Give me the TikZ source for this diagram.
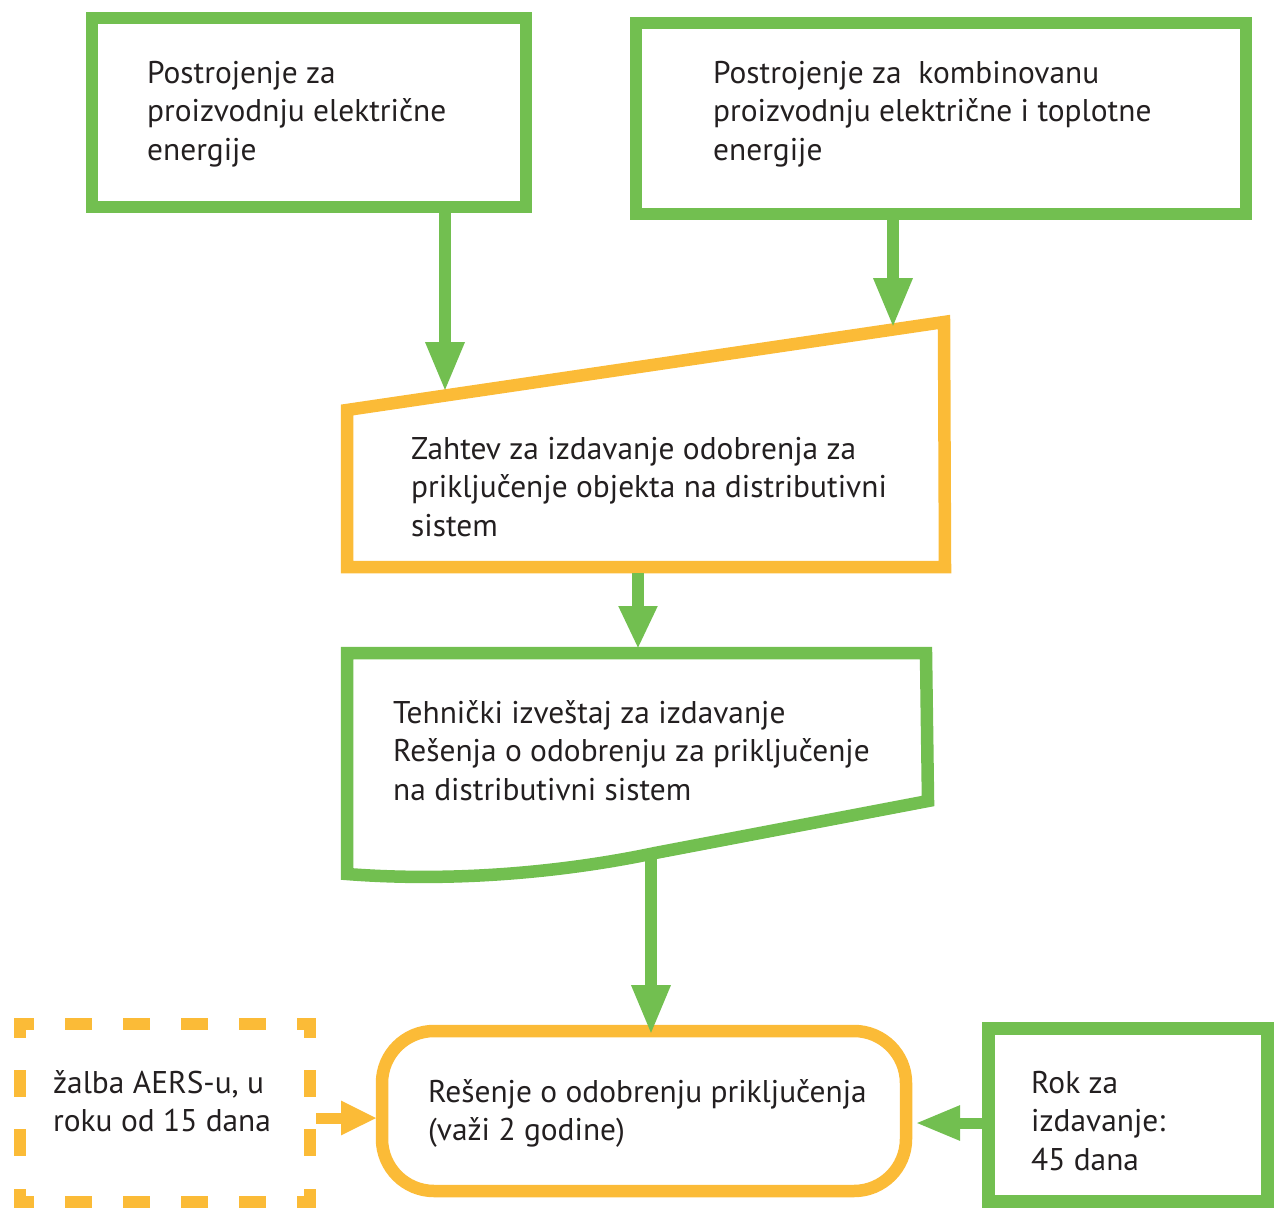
\documentclass[tikz,border=0pt]{standalone}
\usepackage{fontspec}
\setmainfont{PT Sans}
\usetikzlibrary{arrows.meta}
\definecolor{leaf}{RGB}{114,191,80}
\definecolor{amber}{RGB}{251,187,55}
\definecolor{ink}{RGB}{35,31,32}
\tikzset{
  gframe/.style={draw=leaf, line width=12.5pt, line join=miter},
  oframe/.style={draw=amber, line width=12.5pt, line join=miter},
  txt/.style={anchor=north west, inner sep=0pt, align=left, text=ink,
              font=\fontsize{31.4}{38.5}\selectfont},
  garrow/.style={draw=leaf, line width=12pt,
                 -{Triangle[length=#1pt,width=36pt]}},
  garrow/.default=50,
}
\begin{document}
\begin{tikzpicture}[x=1pt,y=-1pt]
\useasboundingbox (0,0) rectangle (1274,1209);

% plain rectangles
\draw[gframe] (92,18) rectangle (526,207);
\draw[gframe] (636,23) rectangle (1246,214);

% manual input (request)
\draw[oframe] (347,410) -- (944,322) -- (945,567) -- (347,567) -- cycle;

% document (technical report)
\draw[gframe] (347,653) -- (926,653) -- (928,801) -- (655,853)
  .. controls (560,873) and (450,882) .. (347,874) -- cycle;

% terminal (decision)
\draw[oframe, rounded corners=52pt] (382,1031) rectangle (906,1191);

% deadline box
\draw[gframe] (988.5,1028.5) rectangle (1267.5,1201.5);

% dashed appeal box, each side dashed so the corners stay solid
\begin{scope}[draw=amber, line width=12pt, line cap=rect]
  \draw[dash pattern=on 15pt off 43pt, dash phase=7.5pt] (20,1024) -- (310,1024);
  \draw[dash pattern=on 15pt off 43pt, dash phase=7.5pt] (20,1202) -- (310,1202);
  \draw[dash pattern=on 15pt off 44.33pt, dash phase=7.5pt] (20,1024) -- (20,1202);
  \draw[dash pattern=on 15pt off 44.33pt, dash phase=7.5pt] (310,1024) -- (310,1202);
\end{scope}

% texts
\node[txt] (plant) at (147,56) {\strut Postrojenje za\\proizvodnju električne\\energije};
\node[txt] (chp) at (713,56) {\strut Postrojenje za\ \ kombinovanu\\proizvodnju električne i toplotne\\energije};
\node[txt] (request) at (411,432) {\strut Zahtev za izdavanje odobrenja za\\priključenje objekta na distributivni\\sistem};
\node[txt] (report) at (393,696) {\strut Tehnički izveštaj za izdavanje\\Rešenja o odobrenju za priključenje\\na distributivni sistem};
\node[txt] (decision) at (428,1075) {\strut Rešenje o odobrenju priključenja\\(važi 2 godine)};
\node[txt] (appeal) at (53,1066) {\strut žalba AERS-u, u\\roku od 15 dana};
\node[txt] (deadline) at (1031,1066) {\strut Rok za\\izdavanje:\\45 dana};

% connector end points
\coordinate (plantOut) at (445,213);
\coordinate (requestInA) at (445,392);
\coordinate (chpOut) at (893,220);
\coordinate (requestInB) at (893,328);
\coordinate (requestOut) at (638,573);
\coordinate (reportIn) at (638,649);
\coordinate (reportOut) at (651,855);
\coordinate (decisionTop) at (651,1035);
\coordinate (appealOut) at (316,1118);
\coordinate (decisionLeft) at (377,1118);
\coordinate (deadlineOut) at (982,1123);
\coordinate (decisionRight) at (915,1123);

% connectors
\draw[garrow] (plantOut) -- (requestInA);
\draw[garrow] (chpOut) -- (requestInB);
\draw[garrow=43] (requestOut) -- (reportIn);
\draw[garrow] (reportOut) -- (decisionTop);
\draw[draw=amber, line width=11pt, -{Triangle[length=36pt,width=32pt]}] (appealOut) -- (decisionLeft);
\draw[draw=leaf, line width=11pt, -{Triangle[length=45pt,width=32pt]}] (deadlineOut) -- (decisionRight);
\end{tikzpicture}
\end{document}
